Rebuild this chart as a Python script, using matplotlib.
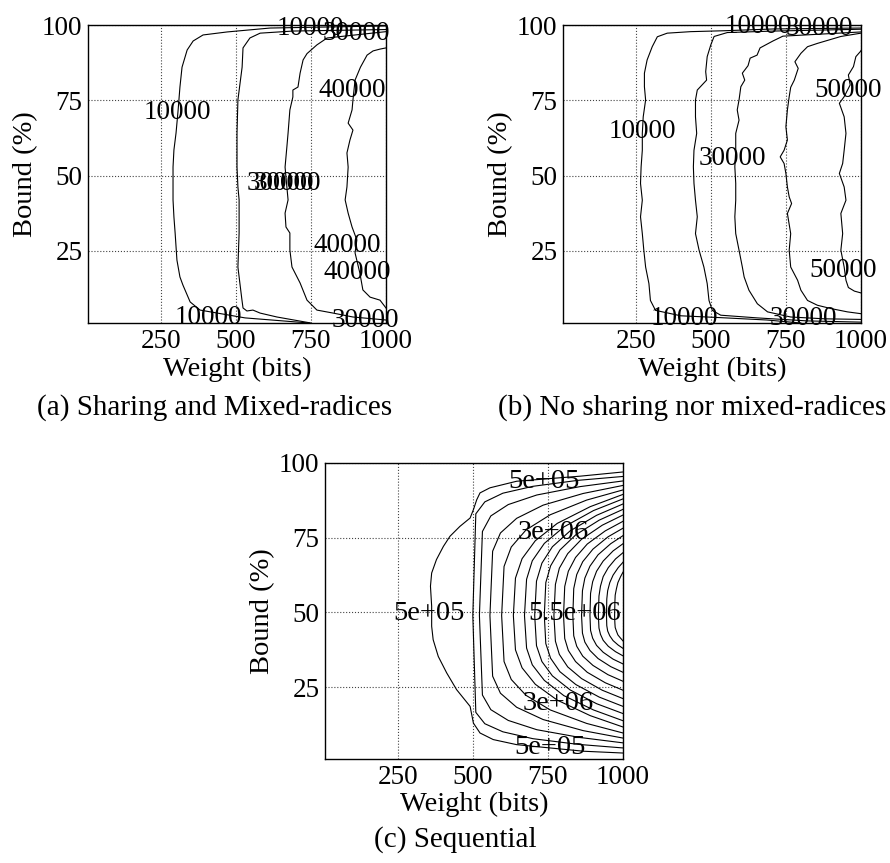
import matplotlib
matplotlib.use("Agg")
import matplotlib.pyplot as plt

plt.rcParams['font.family'] = 'serif'
plt.rcParams['font.serif'] = ['Liberation Serif', 'DejaVu Serif']
fs = 19.5

# ---- (a) Sharing and Mixed-radices : contour lines, bottom -> top ----
a_levels = ['10000', '20000', '30000', '40000']
a_x = [
    [745, 531, 381, 348, 324, 314, 304, 298, 294, 291, 291, 291, 294, 301, 308, 314, 321, 338, 358, 391, 471, 614, 1000],
    [750, 637, 581, 557, 537, 524, 520, 507, 511, 511, 507, 504, 504, 504, 507, 521, 524, 547, 581, 690, 1000],
    [1000, 890, 824, 770, 737, 714, 687, 680, 680, 667, 664, 674, 670, 664, 670, 674, 680, 690, 690, 707, 714, 724, 737, 770, 804, 1000],
    [1000, 980, 947, 923, 913, 897, 903, 887, 874, 864, 870, 874, 870, 880, 890, 874, 887, 890, 897, 915, 937, 957, 980, 1000],
]
a_y = [
    [1.0, 2.7, 5.3, 8.0, 13.6, 16.3, 21.9, 30.9, 36.2, 41.9, 46.2, 52.8, 58.5, 64.1, 71.8, 79.4, 86.0, 91.7, 94.7, 96.7, 97.7, 99.0, 99.7],
    [1.0, 3.0, 4.3, 5.3, 5.0, 6.0, 9.0, 19.6, 30.9, 41.9, 46.2, 52.8, 58.5, 64.1, 75.1, 86.0, 92.4, 95.7, 97.3, 98.0, 98.5],
    [2.0, 3.0, 4.3, 5.3, 8.6, 14.3, 19.6, 25.3, 30.9, 32.9, 37.5, 41.9, 46.2, 52.8, 59.5, 64.1, 71.8, 76.1, 78.4, 79.4, 84.0, 88.4, 90.5, 93.4, 95.7, 97.8],
    [6.0, 8.6, 9.6, 12.0, 17.6, 24.3, 28.6, 32.9, 37.5, 41.9, 46.2, 52.8, 57.5, 61.8, 65.1, 67.4, 71.8, 75.1, 81.7, 86.0, 90.0, 91.4, 92.0, 92.4],
]
a_lab_text = ['10000', '10000', '30000', '30000', '30000', '40000', '40000', '40000', '30000', '10000']
a_lab_x = [304, 747, 903, 648, 672, 887, 870, 903, 933, 407]
a_lab_y = [70.8, 99.0, 97.3, 47.5, 47.5, 78.4, 26.9, 17.9, 2.0, 3.0]

# ---- (b) No sharing nor mixed-radices ----
b_levels = ['10000', '20000', '30000', '40000', '50000']
b_x = [
    [800, 687, 530, 400, 316, 299, 294, 283, 277, 272, 266, 272, 266, 268, 272, 272, 275, 283, 279, 279, 288, 305, 322, 355, 433, 544, 711, 1000],
    [1000, 822, 655, 533, 505, 494, 488, 477, 461, 449, 455, 449, 444, 442, 444, 453, 449, 449, 455, 486, 483, 488, 500, 511, 555, 711, 1000],
    [1000, 878, 766, 689, 655, 627, 611, 605, 594, 583, 580, 583, 583, 580, 583, 583, 594, 588, 594, 600, 613, 605, 624, 631, 654, 664, 707, 740, 1000],
    [1000, 955, 900, 855, 822, 800, 789, 766, 761, 766, 755, 769, 761, 755, 750, 744, 731, 744, 755, 750, 755, 761, 766, 778, 791, 780, 800, 822, 855, 933, 1000],
    [1000, 978, 958, 950, 944, 933, 939, 933, 950, 944, 928, 939, 944, 950, 944, 928, 944, 964, 958, 975, 983, 998, 1000],
]
b_y = [
    [1.0, 2.0, 2.8, 3.4, 5.2, 8.5, 14.1, 19.6, 25.2, 30.7, 36.3, 41.8, 47.4, 52.9, 58.4, 64.0, 69.5, 75.1, 79.5, 84.0, 88.4, 92.8, 96.1, 97.3, 97.8, 98.1, 98.7, 99.0],
    [1.3, 1.7, 2.7, 3.6, 5.2, 8.5, 14.1, 19.6, 25.2, 30.7, 36.3, 41.8, 47.4, 52.9, 58.4, 64.0, 69.5, 75.1, 78.4, 81.7, 84.5, 89.5, 93.4, 96.2, 97.5, 98.0, 98.6],
    [2.2, 2.4, 3.0, 4.7, 7.4, 11.9, 16.3, 19.6, 25.2, 30.7, 36.3, 41.8, 47.4, 52.9, 58.4, 64.0, 68.4, 71.8, 75.1, 79.5, 81.7, 84.0, 86.5, 89.0, 90.0, 92.4, 94.7, 96.3, 97.7],
    [4.1, 4.7, 5.8, 6.9, 8.5, 11.9, 15.2, 19.6, 25.2, 30.7, 37.4, 40.7, 42.9, 46.2, 50.7, 54.0, 56.2, 58.4, 61.8, 66.2, 71.8, 76.2, 79.3, 81.7, 85.6, 87.8, 90.6, 92.8, 93.9, 96.2, 97.3],
    [11.0, 11.6, 12.8, 15.2, 19.6, 25.2, 30.7, 37.4, 41.8, 46.2, 50.7, 54.0, 58.4, 64.0, 69.5, 74.0, 76.2, 80.1, 83.4, 86.2, 89.5, 91.2, 91.5],
]
b_lab_text = ['10000', '30000', '50000', '50000', '10000', '30000', '10000', '30000']
b_lab_x = [272, 572, 958, 941, 657, 861, 413, 808]
b_lab_y = [64.5, 55.7, 78.4, 18.5, 99.5, 99.0, 2.4, 2.4]

# ---- (c) Sequential : 17 levels, 5e+05 .. 8.5e+06 ----
c_x = [
    [1000, 869, 757, 646, 568, 524, 502, 491, 446, 413, 385, 368, 363, 363, 359, 363, 379, 402, 424, 457, 491, 502, 513, 524, 557, 646, 858, 1000],
    [1000, 850, 700, 600, 540, 510, 500, 510, 540, 600, 700, 850, 1000],
    [1000, 857, 713, 618, 560, 532, 522, 532, 560, 618, 713, 857, 1000],
    [1000, 867, 734, 646, 592, 566, 557, 566, 592, 646, 734, 867, 1000],
    [1000, 879, 758, 677, 628, 604, 596, 604, 628, 677, 758, 879, 1000],
    [1000, 891, 781, 708, 664, 642, 635, 642, 664, 708, 781, 891, 1000],
    [1000, 902, 803, 738, 698, 679, 672, 679, 698, 738, 803, 902, 1000],
    [1000, 912, 824, 765, 730, 712, 706, 712, 730, 765, 824, 912, 1000],
    [1000, 921, 843, 790, 759, 743, 738, 743, 759, 790, 843, 921, 1000],
    [1000, 931, 862, 816, 788, 775, 770, 775, 788, 816, 862, 931, 1000],
    [1000, 941, 881, 842, 818, 806, 802, 806, 818, 842, 881, 941, 1000],
    [1000, 950, 900, 866, 846, 836, 833, 836, 846, 866, 900, 950, 1000],
    [1000, 959, 917, 890, 873, 865, 862, 865, 873, 890, 917, 959, 1000],
    [1000, 967, 934, 912, 899, 892, 890, 892, 899, 912, 934, 967, 1000],
    [1000, 975, 951, 934, 925, 920, 918, 920, 925, 934, 951, 975, 1000],
    [1000, 984, 967, 956, 949, 946, 945, 946, 949, 956, 967, 984, 1000],
    [1000, 992, 983, 978, 974, 973, 972, 973, 974, 978, 983, 992, 1000],
]
c_y = [
    [3.0, 3.6, 4.7, 5.8, 7.5, 9.7, 13.0, 18.6, 24.2, 29.8, 35.3, 40.9, 45.4, 52.1, 58.8, 63.2, 67.7, 72.1, 75.5, 78.8, 81.6, 84.4, 87.7, 90.0, 91.7, 93.9, 95.6, 97.0],
    [4.7, 5.9, 7.8, 10.1, 12.8, 16.6, 49, 83.0, 87.0, 89.9, 92.2, 94.2, 95.5],
    [6.4, 8.2, 10.8, 13.9, 17.5, 22.4, 49, 77.1, 82.3, 86.1, 89.3, 92.1, 94.0],
    [8.0, 10.5, 14.2, 18.3, 23.0, 28.7, 49, 70.5, 76.6, 81.5, 85.9, 89.8, 92.5],
    [9.7, 12.9, 17.4, 22.3, 27.6, 33.6, 49, 65.4, 71.9, 77.6, 82.7, 87.6, 91.0],
    [11.7, 15.5, 20.7, 26.0, 31.5, 37.5, 49, 61.5, 68.0, 74.0, 79.8, 85.4, 89.5],
    [13.8, 17.4, 22.2, 27.3, 32.5, 38.1, 49, 61.1, 67.3, 73.1, 78.6, 84.1, 88.0],
    [16.2, 19.5, 24.1, 28.8, 33.6, 38.9, 49, 60.5, 66.5, 72.0, 77.3, 82.5, 86.3],
    [18.6, 21.7, 25.9, 30.2, 34.7, 39.6, 49, 60.0, 65.6, 70.9, 76.0, 80.9, 84.5],
    [21.2, 24.0, 27.9, 31.8, 36.0, 40.4, 49, 59.4, 64.8, 69.7, 74.5, 79.2, 82.6],
    [24.0, 26.5, 30.0, 33.6, 37.3, 41.3, 49, 58.7, 63.8, 68.4, 72.9, 77.3, 80.5],
    [27.0, 29.2, 32.3, 35.4, 38.7, 42.2, 49, 58.0, 62.7, 67.0, 71.2, 75.3, 78.2],
    [30.0, 31.9, 34.6, 37.3, 40.1, 43.1, 49, 57.3, 61.5, 65.5, 69.3, 73.0, 75.7],
    [32.8, 34.4, 36.7, 39.0, 41.4, 44.0, 49, 56.4, 60.3, 63.8, 67.2, 70.6, 73.0],
    [35.5, 36.9, 38.7, 40.7, 42.7, 44.8, 49, 55.5, 58.8, 62.0, 65.0, 67.9, 70.0],
    [38.0, 39.1, 40.6, 42.2, 43.8, 45.6, 49, 54.5, 57.3, 60.0, 62.5, 65.0, 66.8],
    [40.5, 41.4, 42.5, 43.8, 45.0, 46.4, 49, 53.5, 55.8, 57.9, 60.0, 62.0, 63.5],
]
c_lab_text = ['5e+05', '5e+05', '3e+06', '5.5e+06', '3e+06', '5e+05']
c_lab_x = [354, 737, 767, 840, 784, 757]
c_lab_y = [49.8, 93.7, 76.9, 49.8, 19.7, 4.7]

xticks = [250, 500, 750, 1000]
yticks = [25, 50, 75, 100]

fig = plt.figure(figsize=(8.9, 8.63), dpi=100)
ax_a = fig.add_axes([0.0989, 0.6257, 0.3348, 0.3453])
ax_b = fig.add_axes([0.6326, 0.6257, 0.3348, 0.3453])
ax_c = fig.add_axes([0.3652, 0.1205, 0.3348, 0.3430])


def draw(ax, xs, ys, tx, lx, ly, lab_fs):
    for x, y in zip(xs, ys):
        ax.plot(x, y, color='black', lw=0.8)
    for t, x, y in zip(tx, lx, ly):
        ax.text(x, y, t, fontsize=lab_fs, ha='center', va='center', clip_on=False)
    ax.set_xlim(8, 1000)
    ax.set_ylim(1, 100)
    ax.set_xticks(xticks)
    ax.set_yticks(yticks)
    ax.tick_params(labelsize=fs, length=0, pad=4)
    ax.grid(True, linestyle=':', color='#444444', lw=0.8)
    ax.set_xlabel('Weight (bits)', fontsize=20.5, labelpad=2)
    ax.set_ylabel('Bound (%)', fontsize=20.5, labelpad=3)
    for s in ax.spines.values():
        s.set_linewidth(1.0)


draw(ax_a, a_x, a_y, a_lab_text, a_lab_x, a_lab_y, fs)
draw(ax_b, b_x, b_y, b_lab_text, b_lab_x, b_lab_y, fs)
draw(ax_c, c_x, c_y, c_lab_text, c_lab_x, c_lab_y, 20.5)

cap_fs = 21
fig.text(215 / 890, 1 - 408 / 863, '(a) Sharing and Mixed-radices', fontsize=cap_fs, ha='center', va='center')
fig.text(692 / 890, 1 - 408 / 863, '(b) No sharing nor mixed-radices', fontsize=cap_fs, ha='center', va='center')
fig.text(455 / 890, 1 - 840 / 863, '(c) Sequential', fontsize=cap_fs, ha='center', va='center')

fig.savefig('out.png', dpi=100)
